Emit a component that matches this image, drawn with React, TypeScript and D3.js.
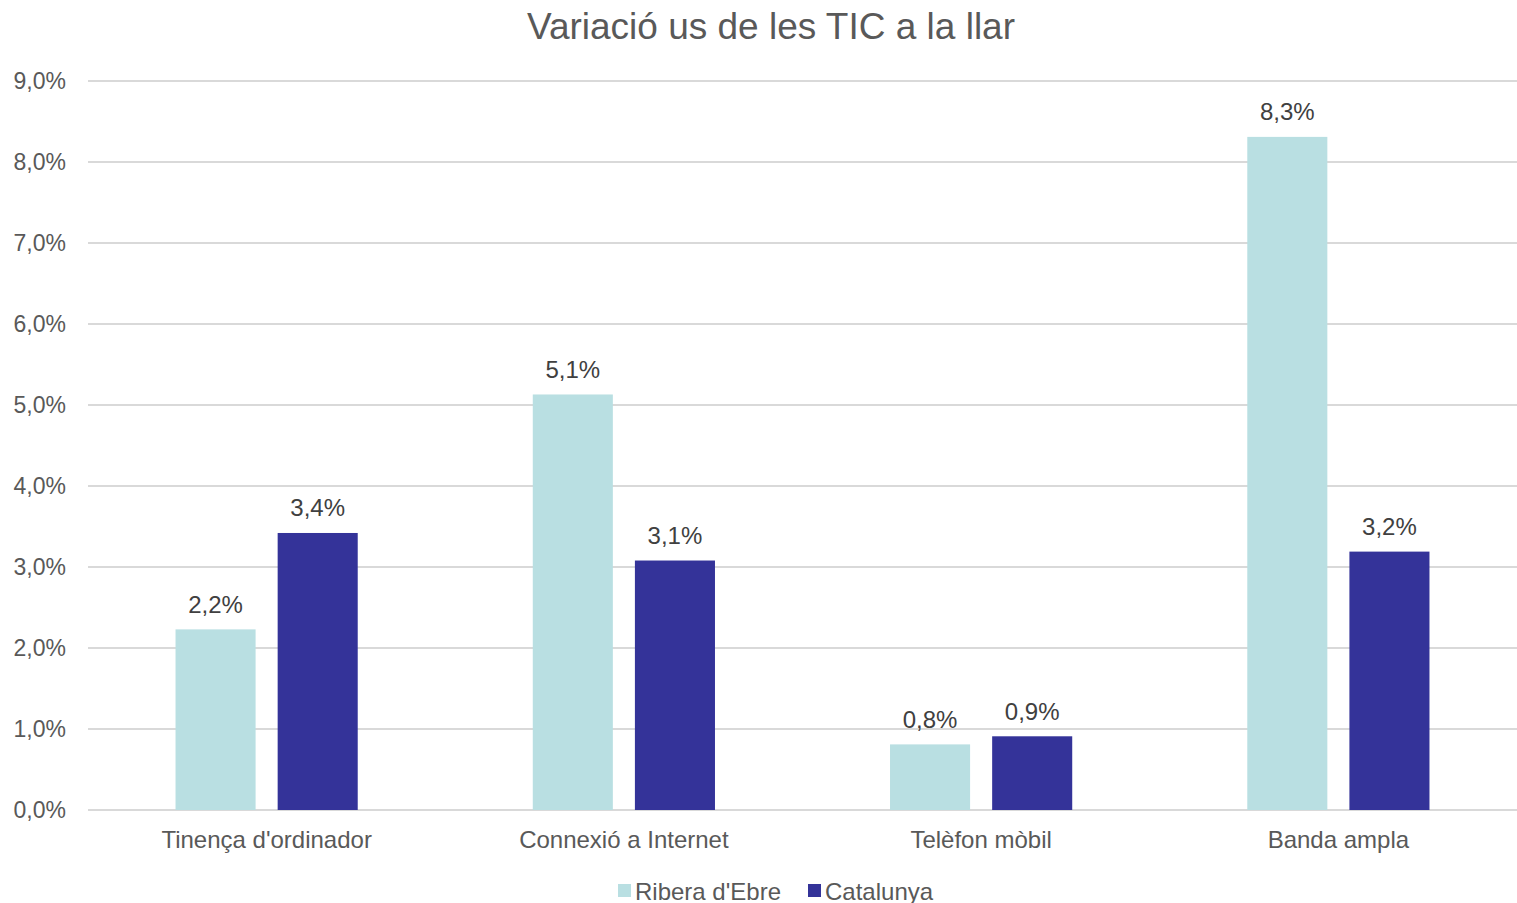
import { scaleBand, scaleLinear } from "d3";

const categories = ["Tinença d'ordinador", "Connexió a Internet", "Telèfon mòbil", "Banda ampla"];
const seriesNames = ["Ribera d'Ebre", "Catalunya"];
const riberaValues = [2.23, 5.13, 0.81, 8.31];
const catalunyaValues = [3.42, 3.08, 0.91, 3.19];
const yTicks = [0, 1, 2, 3, 4, 5, 6, 7, 8, 9];

const colors = ["#b9dfe2", "#343399"];
const font = "'Liberation Sans', Arial, sans-serif";

const fmt = (v: number, digits = 1) => v.toFixed(digits).replace(".", ",") + "%";

export default function App() {
  const width = 1517;
  const height = 903;
  const plotLeft = 88;
  const plotRight = 1517;
  const plotTop = 81;
  const plotBottom = 810;

  const x = scaleBand<string>().domain(categories).range([plotLeft, plotRight]).padding(0);
  const y = scaleLinear().domain([0, 9]).range([plotBottom, plotTop]);

  // two bars per category, with a small gap between them
  const groupWidth = x.bandwidth() * 0.51;
  const inner = scaleBand<string>()
    .domain(seriesNames)
    .range([-groupWidth / 2, groupWidth / 2])
    .paddingInner(0.216)
    .paddingOuter(0);

  const series = [riberaValues, catalunyaValues];

  return (
    <svg
      width={width}
      height={height}
      viewBox={`0 0 ${width} ${height}`}
      style={{ position: "absolute", left: 0, top: 0, background: "#ffffff" }}
      fontFamily={font}
    >
      <text x={771} y={26} textAnchor="middle" dominantBaseline="central" fill="#595959" fontSize="37">
        Variació us de les TIC a la llar
      </text>

      {yTicks.map((t) => (
        <g key={t}>
          <line x1={plotLeft} x2={plotRight} y1={y(t)} y2={y(t)} stroke="#d9d9d9" strokeWidth="2" />
          <text
            x={66}
            y={y(t)}
            textAnchor="end"
            dominantBaseline="central"
            fill="#595959"
            fontSize="23"
          >
            {fmt(t)}
          </text>
        </g>
      ))}

      {categories.map((cat, ci) => {
        const cx = (x(cat) ?? 0) + x.bandwidth() / 2;
        return (
          <g key={cat}>
            {series.map((vals, si) => {
              const bx = cx + (inner(seriesNames[si]) ?? 0);
              const top = y(vals[ci]);
              return (
                <g key={si}>
                  <rect x={bx} y={top} width={inner.bandwidth()} height={plotBottom - top} fill={colors[si]} />
                  <text
                    x={bx + inner.bandwidth() / 2}
                    y={top - 25}
                    textAnchor="middle"
                    dominantBaseline="central"
                    fill="#404040"
                    fontSize="24"
                  >
                    {fmt(vals[ci])}
                  </text>
                </g>
              );
            })}
            <text x={cx} y={839} textAnchor="middle" dominantBaseline="central" fill="#595959" fontSize="24">
              {cat}
            </text>
          </g>
        );
      })}

      {[
        { x: 618, tx: 635 },
        { x: 808, tx: 825 },
      ].map((l, i) => (
        <g key={seriesNames[i]}>
          <rect x={l.x} y={884} width={13} height={13} fill={colors[i]} />
          <text x={l.tx} y={891} dominantBaseline="central" fill="#595959" fontSize="24">
            {seriesNames[i]}
          </text>
        </g>
      ))}
    </svg>
  );
}
